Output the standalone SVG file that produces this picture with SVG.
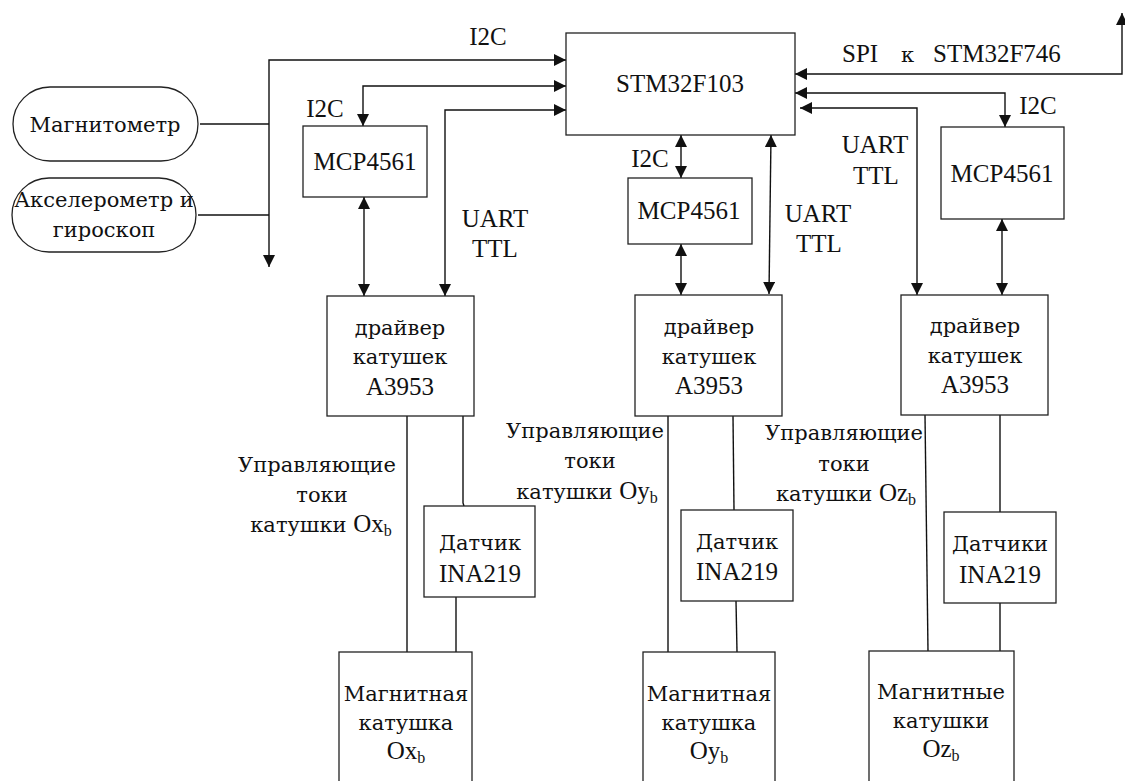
<svg xmlns="http://www.w3.org/2000/svg" width="1125" height="781" viewBox="0 0 1125 781">
<style>
text{font-family:'Liberation Serif','Times New Roman',serif;font-size:25px;fill:#111;text-anchor:middle}
.c{font-family:'DejaVu Serif',serif;font-size:21px}
.lt{font-family:'Liberation Serif','Times New Roman',serif;font-size:25px}
.l{text-anchor:start}
.box{fill:#fff;stroke:#222;stroke-width:1.3}
.w{fill:none;stroke:#111;stroke-width:1.4}
.a{fill:none;stroke:#111;stroke-width:1.4;marker-start:url(#ah);marker-end:url(#ah)}
.sub{font-family:'Liberation Serif','Times New Roman',serif;font-size:16px}
</style>
<defs>
<marker id="ah" viewBox="0 0 10 10" refX="10" refY="5" markerWidth="12" markerHeight="12" markerUnits="userSpaceOnUse" orient="auto-start-reverse">
<path d="M0,0 L10,5 L0,10 z" fill="#111"/>
</marker>
</defs>
<rect width="1125" height="781" fill="#fff"/>

<g id="connectors">
<path class="a" d="M566,60 L269,60 L269,267"/>
<path class="w" d="M200,124 L269,124"/>
<path class="w" d="M198,215 L269,215"/>
<path class="a" d="M566,86 L363,86 L363,126"/>
<path class="a" d="M566,110 L445,110 L445,296"/>
<path class="a" d="M364,197 L364,296"/>
<path class="a" d="M681,135 L681,178"/>
<path class="a" d="M681,244 L681,295"/>
<path class="a" d="M771,135 L769,294"/>
<path class="a" d="M1122,13 L1122,74 L795,74"/>
<path class="a" d="M795,93 L1005,93 L1005,127"/>
<path class="a" d="M800,108 L917,108 L917,295"/>
<path class="a" d="M1002,219 L1002,295"/>
<path class="w" d="M407,416 L407,652"/>
<path class="w" d="M463,416 L463,503 L464,506"/>
<path class="w" d="M456,597 L456,652"/>
<path class="w" d="M668,416 L668,652"/>
<path class="w" d="M733,416 L734,510"/>
<path class="w" d="M736,601 L737,652"/>
<path class="w" d="M925,415 L928,651"/>
<path class="w" d="M1000,415 L1000,512"/>
<path class="w" d="M1000,603 L1000,651"/>
</g>

<g id="labels">
<text x="488" y="45">I2C</text>
<text x="325" y="117">I2C</text>
<text x="495" y="227">UART</text>
<text x="495" y="257">TTL</text>
<text x="650" y="167">I2C</text>
<text x="818" y="222">UART</text>
<text x="819" y="252">TTL</text>
<text class="l" y="62"><tspan x="842">SPI</tspan><tspan x="901" class="c">к</tspan><tspan x="933">STM32F746</tspan></text>
<text x="1038" y="114">I2C</text>
<text x="875" y="153">UART</text>
<text x="876" y="184">TTL</text>
<text class="c" x="317" y="472">Управляющие</text>
<text class="c" x="322" y="502">токи</text>
<text class="c" x="321" y="532">катушки <tspan class="lt">Ox</tspan><tspan class="sub" dy="4">b</tspan></text>
<text class="c" x="585" y="438">Управляющие</text>
<text class="c" x="590" y="468">токи</text>
<text class="c" x="587" y="499">катушки <tspan class="lt">Oy</tspan><tspan class="sub" dy="4">b</tspan></text>
<text class="c" x="844" y="440">Управляющие</text>
<text class="c" x="844" y="471">токи</text>
<text class="c" x="846" y="501">катушки <tspan class="lt">Oz</tspan><tspan class="sub" dy="4">b</tspan></text>
</g>

<g id="magnetometer">
<rect class="box" x="13" y="87" width="185" height="74" rx="37" ry="37"/>
<text class="c" x="105" y="132">Магнитометр</text>
</g>
<g id="accelerometer">
<rect class="box" x="12" y="178" width="184" height="74" rx="37" ry="37"/>
<text class="c" x="104" y="207">Акселерометр и</text>
<text class="c" x="104" y="237">гироскоп</text>
</g>
<g id="stm32f103">
<rect class="box" x="566" y="33" width="229" height="102"/>
<text x="680" y="92">STM32F103</text>
</g>
<g id="mcp4561-x">
<rect class="box" x="303" y="126" width="124" height="71"/>
<text x="365" y="170">MCP4561</text>
</g>
<g id="mcp4561-y">
<rect class="box" x="628" y="178" width="124" height="66"/>
<text x="689" y="219">MCP4561</text>
</g>
<g id="mcp4561-z">
<rect class="box" x="941" y="127" width="123" height="92"/>
<text x="1002" y="182">MCP4561</text>
</g>
<g id="driver-x">
<rect class="box" x="327" y="296" width="147" height="120"/>
<text class="c" x="400" y="335">драйвер</text>
<text class="c" x="400" y="364">катушек</text>
<text x="400" y="395">A3953</text>
</g>
<g id="driver-y">
<rect class="box" x="635" y="295" width="147" height="121"/>
<text class="c" x="709" y="334">драйвер</text>
<text class="c" x="709" y="364">катушек</text>
<text x="709" y="394">A3953</text>
</g>
<g id="driver-z">
<rect class="box" x="901" y="295" width="147" height="120"/>
<text class="c" x="975" y="333">драйвер</text>
<text class="c" x="975" y="363">катушек</text>
<text x="975" y="393">A3953</text>
</g>
<g id="ina219-x">
<rect class="box" x="424" y="506" width="111" height="91"/>
<text class="c" x="480" y="550">Датчик</text>
<text x="480" y="582">INA219</text>
</g>
<g id="ina219-y">
<rect class="box" x="681" y="510" width="112" height="91"/>
<text class="c" x="737" y="549">Датчик</text>
<text x="737" y="580">INA219</text>
</g>
<g id="ina219-z">
<rect class="box" x="944" y="512" width="112" height="91"/>
<text class="c" x="1000" y="551">Датчики</text>
<text x="1000" y="583">INA219</text>
</g>
<g id="coil-x">
<rect class="box" x="339" y="652" width="133" height="140"/>
<text class="c" x="406" y="701">Магнитная</text>
<text class="c" x="406" y="730">катушка</text>
<text x="406" y="759">Ox<tspan class="sub" dy="4">b</tspan></text>
</g>
<g id="coil-y">
<rect class="box" x="643" y="652" width="132" height="140"/>
<text class="c" x="709" y="701">Магнитная</text>
<text class="c" x="709" y="730">катушка</text>
<text x="709" y="759">Oy<tspan class="sub" dy="4">b</tspan></text>
</g>
<g id="coil-z">
<rect class="box" x="869" y="651" width="145" height="140"/>
<text class="c" x="941" y="699">Магнитные</text>
<text class="c" x="941" y="728">катушки</text>
<text x="941" y="757">Oz<tspan class="sub" dy="4">b</tspan></text>
</g>
</svg>
